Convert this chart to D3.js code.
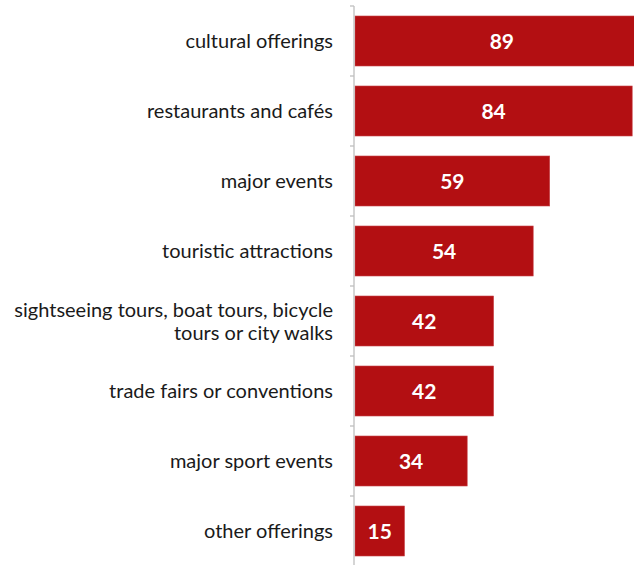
<!DOCTYPE html>
<html>
<head>
<meta charset="utf-8">
<script src="https://cdn.jsdelivr.net/npm/d3@7"></script>
<style>
  html, body { margin: 0; padding: 0; background: #fff; }
  svg { display: block; }
</style>
</head>
<body>
<div id="chart"></div>
<script>
// --- Data ---
const categories = [
  "cultural offerings",
  "restaurants and cafés",
  "major events",
  "touristic attractions",
  "sightseeing tours, boat tours, bicycle|tours or city walks",
  "trade fairs or conventions",
  "major sport events",
  "other offerings"
];
const values = [89, 84, 59, 54, 42, 42, 34, 15];

// --- Dimensions ---
const W = 634, H = 565;
const axisX = 354;

const svg = d3.select("#chart")
  .append("svg")
  .attr("width", W)
  .attr("height", H);

const y = d3.scaleBand()
  .domain(categories)
  .range([6, 566])
  .paddingInner(0.2857)
  .paddingOuter(0.1428);

const x = d3.scaleLinear()
  .domain([0, 100])
  .range([axisX + 1, axisX + 1 + 330]);

// bars
svg.selectAll("rect.bar")
  .data(values)
  .join("rect")
  .attr("class", "bar")
  .attr("x", x(0))
  .attr("y", (d, i) => y(categories[i]))
  .attr("width", d => x(d) - x(0))
  .attr("height", y.bandwidth())
  .attr("fill", "#b30f12")
  .attr("stroke", "#c8454a")
  .attr("stroke-width", 0.6);

// value labels
svg.selectAll("text.val")
  .data(values)
  .join("text")
  .attr("class", "val")
  .attr("x", d => (x(0) + x(d)) / 2)
  .attr("y", (d, i) => y(categories[i]) + y.bandwidth() / 2)
  .attr("dy", "0.36em")
  .attr("text-anchor", "middle")
  .attr("fill", "#fff")
  .style("font-family", "Lato, 'Open Sans', sans-serif")
  .style("font-weight", "700")
  .style("font-size", "21px")
  .text(d => d);

// y axis line + ticks (ticks at band boundaries)
const axisG = svg.append("g").attr("stroke", "#bfbfbf").attr("stroke-width", 1.3);
axisG.append("line")
  .attr("x1", axisX).attr("x2", axisX)
  .attr("y1", 6).attr("y2", H);
const bounds = categories.map(c => y(c) - y.step() * y.paddingInner() / 2);
axisG.selectAll("line.tick")
  .data(bounds)
  .join("line")
  .attr("class", "tick")
  .attr("x1", axisX - 4).attr("x2", axisX)
  .attr("y1", d => d).attr("y2", d => d);

// category labels
const labels = svg.selectAll("text.cat")
  .data(categories)
  .join("text")
  .attr("class", "cat")
  .attr("text-anchor", "end")
  .attr("fill", "#1a1a1a")
  .style("font-family", "Lato, 'Open Sans', sans-serif")
  .style("font-size", "20px");

labels.each(function (c) {
  const lines = c.split("|");
  const cy = y(c) + y.bandwidth() / 2;
  const lh = 23;
  const t = d3.select(this);
  lines.forEach((ln, k) => {
    t.append("tspan")
      .attr("x", 333)
      .attr("y", cy + (k - (lines.length - 1) / 2) * lh)
      .attr("dy", "0.35em")
      .text(ln);
  });
});
</script>
</body>
</html>
